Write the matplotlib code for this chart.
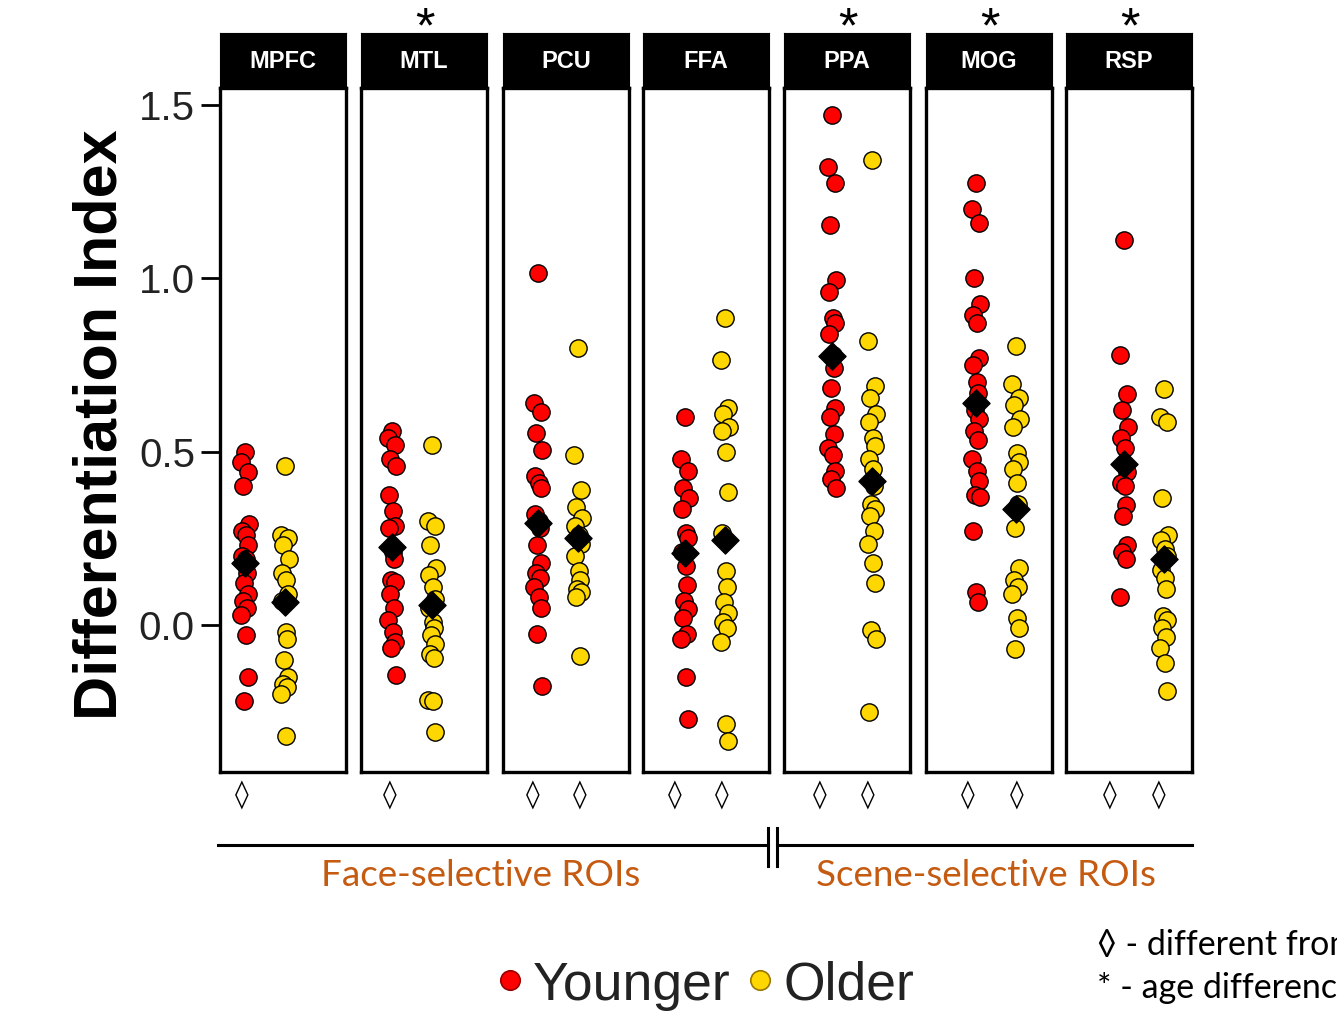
import matplotlib.pyplot as plt
from matplotlib.lines import Line2D

# regions of interest
rois = ['MPFC', 'MTL', 'PCU', 'FFA', 'PPA', 'MOG', 'RSP']

# differentiation index per participant
mpfc_young = [0.50, 0.47, 0.44, 0.40, 0.29, 0.27, 0.26, 0.23, 0.20, 0.19, 0.15, 0.12,
              0.09, 0.07, 0.05, 0.03, -0.03, -0.15, -0.22]
mpfc_old = [0.46, 0.26, 0.25, 0.23, 0.19, 0.15, 0.13, 0.09, 0.07, -0.02, -0.04, -0.10,
            -0.15, -0.17, -0.18, -0.20, -0.32]
mtl_young = [0.56, 0.54, 0.52, 0.48, 0.46, 0.375, 0.33, 0.285, 0.28, 0.21, 0.19, 0.13,
             0.125, 0.09, 0.05, 0.015, -0.02, -0.05, -0.065, -0.145]
mtl_old = [0.52, 0.30, 0.285, 0.23, 0.165, 0.145, 0.11, 0.075, 0.05, 0.01, -0.01, -0.03,
           -0.055, -0.085, -0.095, -0.215, -0.22, -0.31]
pcu_young = [1.015, 0.64, 0.615, 0.555, 0.505, 0.43, 0.41, 0.395, 0.32, 0.30, 0.28, 0.23,
             0.18, 0.15, 0.135, 0.11, 0.08, 0.05, -0.025, -0.175]
pcu_old = [0.80, 0.49, 0.39, 0.34, 0.31, 0.285, 0.26, 0.235, 0.20, 0.155, 0.13, 0.105,
           0.095, 0.08, -0.09]
ffa_young = [0.60, 0.48, 0.445, 0.395, 0.365, 0.335, 0.265, 0.25, 0.21, 0.17, 0.115, 0.07,
             0.045, 0.02, -0.025, -0.04, -0.15, -0.27]
ffa_old = [0.885, 0.765, 0.625, 0.61, 0.57, 0.56, 0.50, 0.385, 0.265, 0.155, 0.11, 0.065,
           0.035, 0.01, -0.01, -0.05, -0.285, -0.335]
ppa_young = [1.47, 1.32, 1.275, 1.155, 0.995, 0.96, 0.885, 0.87, 0.84, 0.78, 0.74, 0.685,
             0.625, 0.60, 0.55, 0.51, 0.49, 0.445, 0.42, 0.395]
ppa_old = [1.34, 0.82, 0.69, 0.655, 0.61, 0.585, 0.54, 0.515, 0.48, 0.45, 0.40, 0.35,
           0.335, 0.315, 0.27, 0.235, 0.18, 0.12, -0.015, -0.04, -0.25]
mog_young = [1.275, 1.20, 1.16, 1.0, 0.925, 0.895, 0.87, 0.77, 0.75, 0.70, 0.67, 0.62,
             0.595, 0.56, 0.535, 0.48, 0.445, 0.415, 0.375, 0.37, 0.27, 0.095, 0.065]
mog_old = [0.805, 0.695, 0.655, 0.635, 0.595, 0.57, 0.495, 0.47, 0.45, 0.41, 0.35, 0.28,
           0.165, 0.13, 0.11, 0.09, 0.02, -0.01, -0.07]
rsp_young = [1.11, 0.78, 0.665, 0.62, 0.57, 0.54, 0.51, 0.44, 0.41, 0.40, 0.345, 0.315,
             0.23, 0.21, 0.19, 0.08]
rsp_old = [0.68, 0.60, 0.585, 0.365, 0.26, 0.245, 0.22, 0.20, 0.16, 0.135, 0.105, 0.025,
           0.015, -0.01, -0.035, -0.065, -0.11, -0.19]

young_data = [mpfc_young, mtl_young, pcu_young, ffa_young, ppa_young, mog_young, rsp_young]
old_data = [mpfc_old, mtl_old, pcu_old, ffa_old, ppa_old, mog_old, rsp_old]

# group means (black diamonds)
young_means = [0.18, 0.225, 0.293, 0.207, 0.775, 0.64, 0.465]
old_means = [0.065, 0.058, 0.25, 0.245, 0.415, 0.335, 0.19]

# significance marks
age_diff = [False, True, False, False, True, True, True]
young_vs_zero = [True, True, True, True, True, True, True]
old_vs_zero = [False, False, True, True, True, True, True]

yticks = [0.0, 0.5, 1.0, 1.5]
ytick_labels = ['0.0', '0.5', '1.0', '1.5']

RED = '#FF0000'
YELLOW = '#FFD700'
ORANGE = '#C55A11'

W, H = 1337, 1011
fig = plt.figure(figsize=(W / 100, H / 100), dpi=100)


def fx(px):
    return px / W


def fy(py):
    return 1 - py / H


# layout in pixels
panel_left = [220, 361, 503, 643, 784, 926, 1066]
panel_w = 126
panel_top, panel_bot = 88, 772
young_off = [25, 31, 35, 42, 48, 50, 58]   # pixel offset of the young column
unit_px = 40                               # pixels per x unit
lozenge_off = [(22, 70), (29, 77), (30, 77), (32, 79), (36, 84), (42, 91), (44, 93)]

# fixed jitter pattern for the strip plot
jit = [0.0, -0.1, 0.07, -0.04, 0.1, -0.07, 0.035, 0.085, -0.085, 0.015, 0.055, -0.02,
       0.08, -0.055, 0.04, -0.09, 0.02, 0.065, -0.035, 0.09, -0.075, 0.0, 0.05]

ymin, ymax = -0.424, 1.549

for i, roi in enumerate(rois):
    L = panel_left[i]
    ax = fig.add_axes([fx(L), fy(panel_bot), panel_w / W, (panel_bot - panel_top) / H])
    x0 = 1 - young_off[i] / unit_px
    ax.set_xlim(x0, x0 + panel_w / unit_px)
    ax.set_ylim(ymin, ymax)

    for grp, vals, col in [(1, young_data[i], RED), (2, old_data[i], YELLOW)]:
        xs = [grp + jit[k % len(jit)] for k in range(len(vals))]
        ax.scatter(xs, vals, s=155, c=col, edgecolors='black', linewidths=1.0, zorder=3)
    ax.scatter([1, 2], [young_means[i], old_means[i]], marker='D', s=190,
               c='black', zorder=4)

    for sp in ax.spines.values():
        sp.set_linewidth(2.4)
    ax.set_xticks([])
    if i == 0:
        ax.set_yticks(yticks)
        ax.set_yticklabels(ytick_labels, fontsize=29, color='#222222',
                           family='Liberation Sans')
        ax.tick_params(axis='y', length=14, width=2, pad=4)
    else:
        ax.set_yticks([])

    # black strip header
    sx = fig.add_axes([fx(L), fy(86), panel_w / W, (86 - 33) / H])
    sx.set_facecolor('black')
    sx.set_xticks([])
    sx.set_yticks([])
    sx.text(0.5, 0.47, roi, color='white', fontsize=17, fontweight='bold',
            family='Liberation Sans', ha='center', va='center', transform=sx.transAxes)

    # lozenges below panels
    if young_vs_zero[i]:
        ax.text(lozenge_off[i][0] / panel_w, -0.035, '\u25CA', fontsize=20,
                ha='center', va='center', transform=ax.transAxes, clip_on=False)
    if old_vs_zero[i]:
        ax.text(lozenge_off[i][1] / panel_w, -0.035, '\u25CA', fontsize=20,
                ha='center', va='center', transform=ax.transAxes, clip_on=False)

    # age difference asterisk
    if age_diff[i]:
        fig.text(fx(L + panel_w / 2 + 1), fy(42), '*', fontsize=36,
                 family='Liberation Sans', ha='center', va='baseline')

# y axis label
fig.text(fx(101), fy(425), 'Differentiation Index', rotation=90, fontsize=44,
         fontweight='bold', family='Liberation Sans', ha='center', va='center')

# ROI group line with break
fig.add_artist(Line2D([fx(218), fx(768)], [fy(845), fy(845)], color='black', lw=2.2))
fig.add_artist(Line2D([fx(777), fx(1192)], [fy(845), fy(845)], color='black', lw=2.2))
for bx in [768, 777]:
    fig.add_artist(Line2D([fx(bx), fx(bx)], [fy(828), fy(866)], color='black', lw=2.2))

fig.text(fx(481), fy(876), 'Face-selective ROIs', fontsize=26.5, color=ORANGE,
         family='Lato', ha='center', va='center')
fig.text(fx(986), fy(876), 'Scene-selective ROIs', fontsize=26.5, color=ORANGE,
         family='Lato', ha='center', va='center')

# legend
fig.add_artist(Line2D([fx(510)], [fy(980)], marker='o', markersize=14, color=RED,
                      markeredgecolor='#990000', markeredgewidth=1.2, linestyle='none'))
fig.text(fx(533), fy(1000), 'Younger', fontsize=38.5, family='Liberation Sans',
         ha='left', va='baseline', color='#222222')
fig.add_artist(Line2D([fx(760)], [fy(980)], marker='o', markersize=14, color=YELLOW,
                      markeredgecolor='#997700', markeredgewidth=1.2, linestyle='none'))
fig.text(fx(783), fy(1000), 'Older', fontsize=38.5, family='Liberation Sans',
         ha='left', va='baseline', color='#222222')

# notes at bottom right
fig.text(fx(1097), fy(945), '\u25CA - different from zero', fontsize=24.5,
         family=['Lato', 'DejaVu Sans'], ha='left', va='center')
fig.text(fx(1097), fy(988), '* - age difference', fontsize=24.5,
         family=['Lato', 'DejaVu Sans'], ha='left', va='center')

plt.savefig('out.png', dpi=100)
